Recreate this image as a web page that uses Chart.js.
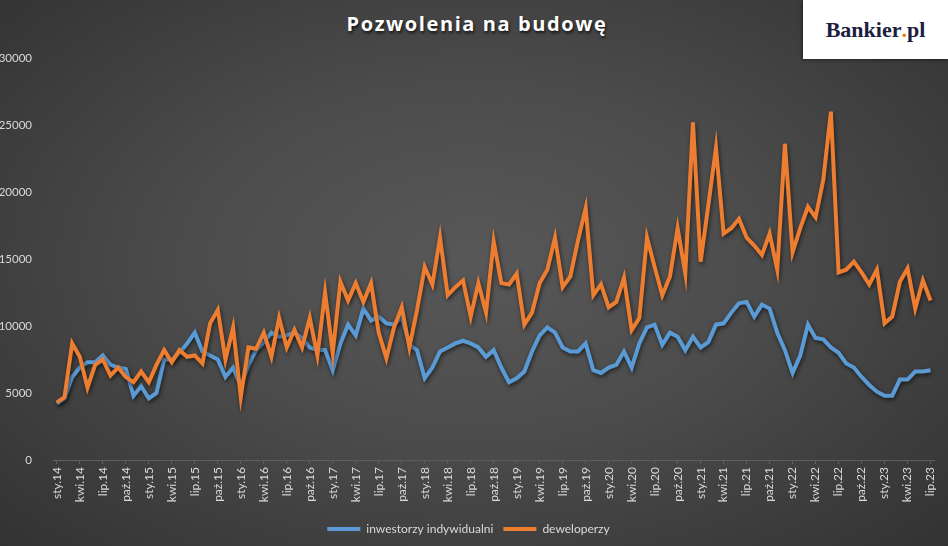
<!DOCTYPE html>
<html lang="pl">
<head>
<meta charset="utf-8">
<title>Pozwolenia na budowę</title>
<script src="https://cdn.jsdelivr.net/npm/chart.js@4.4.1/dist/chart.umd.min.js"></script>
<style>
  html, body { margin: 0; padding: 0; }
  body {
    width: 948px; height: 546px; overflow: hidden; position: relative;
    background: radial-gradient(ellipse 75% 80% at 50% 48%, #585858 0%, #4c4c4c 40%, #2f2f2f 100%);
  }
  #title {
    position: absolute; left: 0; width: 954px; top: 10px; text-align: center;
    font: bold 20px "Open Sans", sans-serif; letter-spacing: 1.6px; color: #fff;
    text-shadow: 1px 2px 3px rgba(0, 0, 0, 0.75);
  }
  #logo {
    position: absolute; right: 0; top: 0; width: 145px; height: 59px; background: #fff;
    box-shadow: -1px 1px 3px rgba(0, 0, 0, 0.45);
    font: bold 22px "Liberation Serif", serif; color: #1b2040;
    display: flex; align-items: center; justify-content: center;
  }
  #logo span { color: #e3801f; }
  canvas { position: absolute; left: 0; top: 0; }
</style>
</head>
<body>
<div id="title">Pozwolenia na budowę</div>
<div id="logo">Bankier<span>.</span>pl</div>
<canvas id="chart" width="948" height="546"></canvas>
<script>
// Monthly building permits, sty.14 .. lip.23
const MONTHS = ["sty", "lut", "mar", "kwi", "maj", "cze", "lip", "sie", "wrz", "paź", "lis", "gru"];
const YEARS = ["14", "15", "16", "17", "18", "19", "20", "21", "22", "23"];
const MONTH_COUNT = 115;

const INDIVIDUAL = [
  4200, 4600, 6200, 6900, 7300, 7300, 7800, 7100, 6900, 6800, 4800, 5500,
  4600, 5000, 7500, 7500, 8000, 8700, 9500, 8100, 7800, 7500, 6200, 6900,
  5500, 7100, 8200, 8800, 9500, 9200, 9300, 9500, 9100, 8400, 8200, 8200,
  6700, 8700, 10100, 9300, 11300, 10400, 10700, 10200, 10100, 10700, 8600, 8200,
  6100, 6900, 8100, 8400, 8700, 8900, 8700, 8400, 7700, 8200, 6900, 5800,
  6100, 6600, 8100, 9300, 9900, 9500, 8400, 8100, 8100, 8700, 6700, 6500,
  6900, 7100, 8100, 6900, 8700, 9900, 10100, 8600, 9500, 9200, 8200, 9200,
  8400, 8800, 10100, 10200, 11000, 11700, 11800, 10700, 11600, 11300, 9500, 8200,
  6500, 7800, 10100, 9100, 9000, 8400, 8000, 7200, 6900, 6200, 5600, 5100,
  4800, 4800, 6000, 6000, 6600, 6600, 6700,
];

const DEVELOPERS = [
  4300, 4700, 8700, 7700, 5400, 7100, 7500, 6300, 6900, 6200, 5800, 6600,
  5800, 7100, 8200, 7300, 8200, 7700, 7800, 7200, 10200, 11200, 7500, 9900,
  4700, 8400, 8300, 9500, 7700, 10600, 8400, 9700, 8400, 10600, 7800, 12500,
  8000, 13300, 11900, 13200, 11800, 13200, 9500, 7600, 9900, 11400, 8400, 11200,
  14400, 13100, 16600, 12300, 12900, 13400, 10700, 13200, 11000, 16300, 13200, 13100,
  13900, 10100, 11000, 13200, 14200, 16600, 12900, 13700, 16400, 18800, 12300, 13100,
  11400, 11800, 13600, 9700, 10600, 16600, 14400, 12300, 13700, 17300, 13900, 25200,
  14800, 19000, 23300, 16900, 17300, 18000, 16600, 16000, 15300, 16900, 14200, 23600,
  15500, 17300, 18900, 18100, 20900, 26000, 14000, 14200, 14800, 14000, 13100, 14200,
  10200, 10700, 13300, 14300, 11300, 13400, 11900,
];

const Y_TICKS = [0, 5000, 10000, 15000, 20000, 25000, 30000];

const categories = [];
for (const y of YEARS) {
  for (const m of MONTHS) {
    if (categories.length < MONTH_COUNT) categories.push(`${m}.${y}`);
  }
}

const TEXT = "#d9d9d9";
const FONT = "Lato";

// soft dark glow under each series, like the Excel shadow effect
const lineShadow = {
  id: "lineShadow",
  beforeDatasetDraw(chart) {
    const c = chart.ctx;
    c.save();
    c.shadowColor = "rgba(0, 0, 0, 0.6)";
    c.shadowBlur = 4;
    c.shadowOffsetX = 1;
    c.shadowOffsetY = 2;
  },
  afterDatasetDraw(chart) {
    chart.ctx.restore();
  },
};

new Chart(document.getElementById("chart"), {
  type: "line",
  data: {
    labels: categories,
    datasets: [
      {
        label: "inwestorzy indywidualni",
        data: INDIVIDUAL,
        borderColor: "#5b9bd5",
        backgroundColor: "#5b9bd5",
        borderWidth: 4,
        pointRadius: 0,
        tension: 0,
        order: 2,
      },
      {
        label: "deweloperzy",
        data: DEVELOPERS,
        borderColor: "#ed7d31",
        backgroundColor: "#ed7d31",
        borderWidth: 4,
        pointRadius: 0,
        tension: 0,
        order: 1,
      },
    ],
  },
  options: {
    responsive: false,
    animation: false,
    layout: { padding: { top: 58, right: 11, bottom: 1, left: 0 } },
    plugins: {
      title: { display: false },
      tooltip: { enabled: false },
      legend: {
        position: "bottom",
        labels: {
          color: TEXT,
          font: { family: FONT, size: 12 },
          usePointStyle: true,
          pointStyle: "line",
          pointStyleWidth: 33,
          padding: 10,
          sort: (a, b) => a.datasetIndex - b.datasetIndex,
        },
      },
    },
    scales: {
      x: {
        offset: true,
        afterFit: (s) => { s.height = 53; },
        border: { display: true, color: "#5e5e5e", width: 1 },
        grid: {
          drawOnChartArea: false,
          drawTicks: true,
          tickLength: 4,
          color: (ctx) => (ctx.index % 3 === 0 ? "#5e5e5e" : "transparent"),
        },
        ticks: {
          autoSkip: false,
          minRotation: 90,
          maxRotation: 90,
          padding: 3,
          color: TEXT,
          font: { family: FONT, size: 12 },
          callback: (v, i) => (i % 3 === 0 ? categories[i] : ""),
        },
      },
      y: {
        min: 0,
        max: 30000,
        afterFit: (s) => { s.width = 53; },
        afterBuildTicks: (s) => { s.ticks = Y_TICKS.map((value) => ({ value })); },
        border: { display: false },
        grid: { display: false },
        ticks: {
          padding: 13,
          color: TEXT,
          font: { family: FONT, size: 11.5 },
          callback: (v) => String(v),
        },
      },
    },
  },
  plugins: [lineShadow],
});
</script>
</body>
</html>
